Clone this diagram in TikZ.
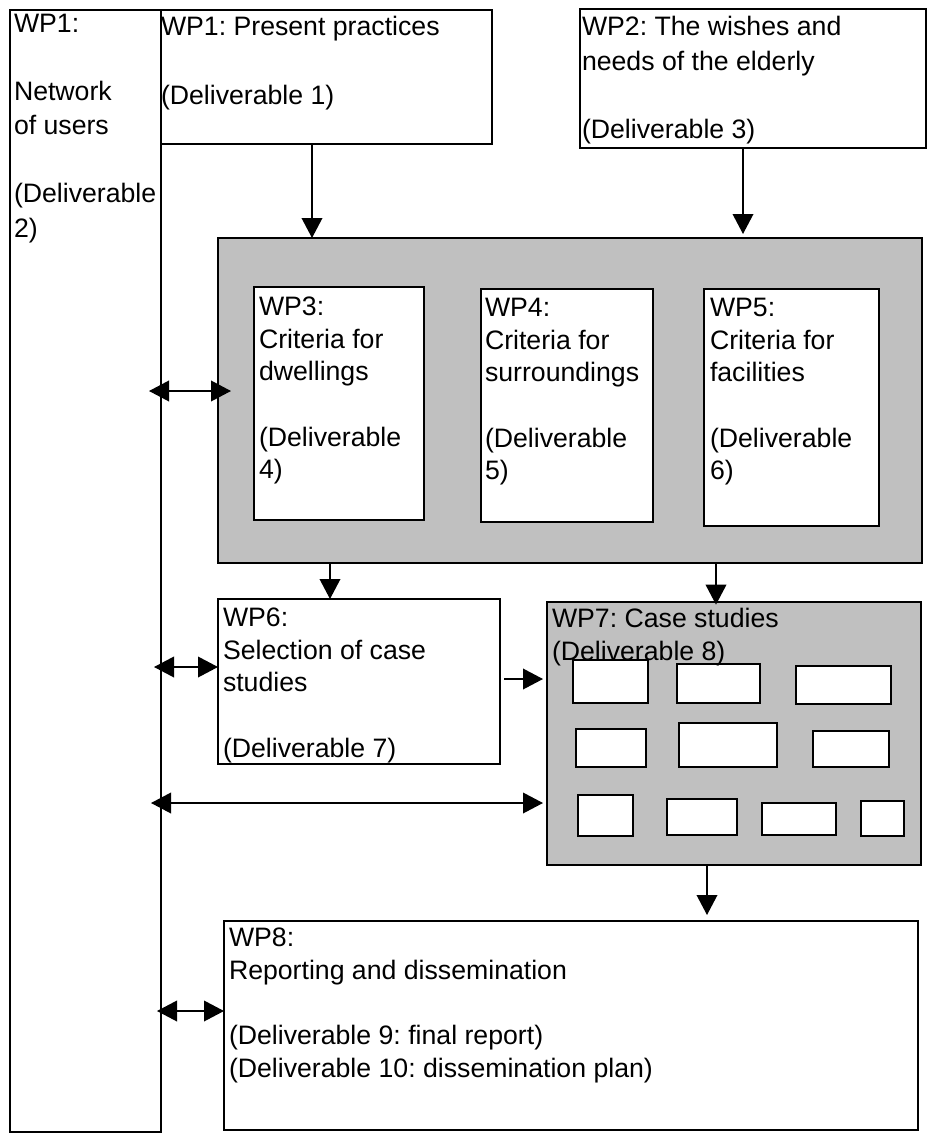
\documentclass[tikz,border=0pt]{standalone}
\usepackage{fontspec}
\setmainfont{Liberation Sans}
\usetikzlibrary{arrows.meta}
\definecolor{silver}{HTML}{C0C0C0}
\frenchspacing
\newcommand\tstrut{\rule[-6pt]{0pt}{23pt}}
% [style]{x1}{y1}{x2}{y2}{name}  (pixel coordinates, y downwards)
\newcommand\wpbox[6][]{\node[box,#1,minimum width={(#4-#2)*0.75pt},minimum height={(#5-#3)*0.75pt}] (#6) at (#2,#3) {};}
\begin{document}
\begin{tikzpicture}[x=0.75pt,y=-0.75pt,
  >={Triangle[length=15pt,width=15.5pt]},
  box/.style={draw,line width=1.1pt,fill=white,inner sep=0pt,outer sep=0pt,anchor=north west},
  graybox/.style={fill=silver},
  txt/.style={anchor=north west,inner sep=0pt,outer sep=0pt,align=left,font=\fontsize{20pt}{24.5pt}\selectfont},
  txttop/.style={txt,font=\fontsize{20pt}{25.6pt}\selectfont},
  arr/.style={line width=1.1pt,->},
  dbl/.style={line width=1.1pt,<->}]
\useasboundingbox (0,0) rectangle (928,1135);

% boxes
\wpbox{10}{10}{161}{1132}{wp1l}
\wpbox{161}{10}{492}{144}{wp1p}
\wpbox{580}{9}{926}{148}{wp2}
\wpbox[graybox]{218}{238}{922}{563}{crit}
\wpbox{254}{287}{424}{520}{wp3}
\wpbox{481}{289}{653}{522}{wp4}
\wpbox{704}{289}{879}{526}{wp5}
\wpbox{218}{599}{500}{764}{wp6}
\wpbox[graybox]{547}{602}{921}{865}{wp7}
\wpbox{224}{921}{918}{1130}{wp8}

% case study boxes
\wpbox{573}{660}{648}{703}{s1}
\wpbox{677}{664}{760}{703}{s2}
\wpbox{796}{666}{891}{704}{s3}
\wpbox{576}{729}{646}{767}{s4}
\wpbox{679}{723}{777}{767}{s5}
\wpbox{813}{731}{889}{767}{s6}
\wpbox{578}{795}{633}{836}{s7}
\wpbox{667}{799}{737}{835}{s8}
\wpbox{762}{803}{836}{835}{s9}
\wpbox{861}{801}{904}{836}{s10}

% texts
\node[txttop] (t1l) at (14,9.6) {\tstrut WP1:\\\tstrut\\\tstrut Network\\\tstrut of users\\\tstrut\\\tstrut (Deliverable\\\tstrut 2)};
\node[txttop] (t1p) at (161,13.3) {\tstrut WP1: Present practices\\\tstrut\\\tstrut (Deliverable 1)};
\node[txttop] (t2) at (582,13.3) {\tstrut WP2: The wishes and\\\tstrut needs of the elderly\\\tstrut\\\tstrut (Deliverable 3)};
\node[txt] (t3) at (259,292.8) {\tstrut WP3:\\\tstrut Criteria for\\\tstrut dwellings\\\tstrut\\\tstrut (Deliverable\\\tstrut 4)};
\node[txt] (t4) at (485,293.8) {\tstrut WP4:\\\tstrut Criteria for\\\tstrut surroundings\\\tstrut\\\tstrut (Deliverable\\\tstrut 5)};
\node[txt] (t5) at (710,293.8) {\tstrut WP5:\\\tstrut Criteria for\\\tstrut facilities\\\tstrut\\\tstrut (Deliverable\\\tstrut 6)};
\node[txt] (t6) at (223,603.8) {\tstrut WP6:\\\tstrut Selection of case\\\tstrut studies\\\tstrut\\\tstrut (Deliverable 7)};
\node[txt] (t7) at (552,604.8) {\tstrut WP7: Case studies\\\tstrut (Deliverable 8)};
\node[txt] (t8) at (229,924.3) {\tstrut WP8:\\\tstrut Reporting and dissemination\\\tstrut\\\tstrut (Deliverable 9: final report)\\\tstrut (Deliverable 10: dissemination plan)};

% guide coordinates for connectors
\coordinate (c1) at (312,0);
\coordinate (c2) at (743,0);
\coordinate (c3) at (330,0);
\coordinate (c4) at (716,0);
\coordinate (c5) at (707,0);
\coordinate (r1) at (0,391);
\coordinate (r2) at (0,667);
\coordinate (r3) at (0,679);
\coordinate (r4) at (0,803);
\coordinate (r5) at (0,1011);

% connectors
\draw[arr] (wp1p.south -| c1) -- (crit.north -| c1);
\draw[arr,shorten >=3pt] (wp2.south -| c2) -- (crit.north -| c2);
\draw[dbl,shorten <=-9pt,shorten >=-9.75pt] (wp1l.east |- r1) -- (crit.west |- r1);
\draw[arr] (crit.south -| c3) -- (wp6.north -| c3);
\draw[arr,shorten >=-2pt] (crit.south -| c4) -- (wp7.north -| c4);
\draw[dbl,shorten <=-5.25pt] (wp1l.east |- r2) -- (wp6.west |- r2);
\draw[arr,shorten <=3pt,shorten >=3pt] (wp6.east |- r3) -- (wp7.west |- r3);
\draw[dbl,shorten <=-7.5pt,shorten >=3pt] (wp1l.east |- r4) -- (wp7.west |- r4);
\draw[arr,shorten >=4.5pt] (wp7.south -| c5) -- (wp8.north -| c5);
\draw[dbl,shorten <=-3pt] (wp1l.east |- r5) -- (wp8.west |- r5);
\end{tikzpicture}
\end{document}
